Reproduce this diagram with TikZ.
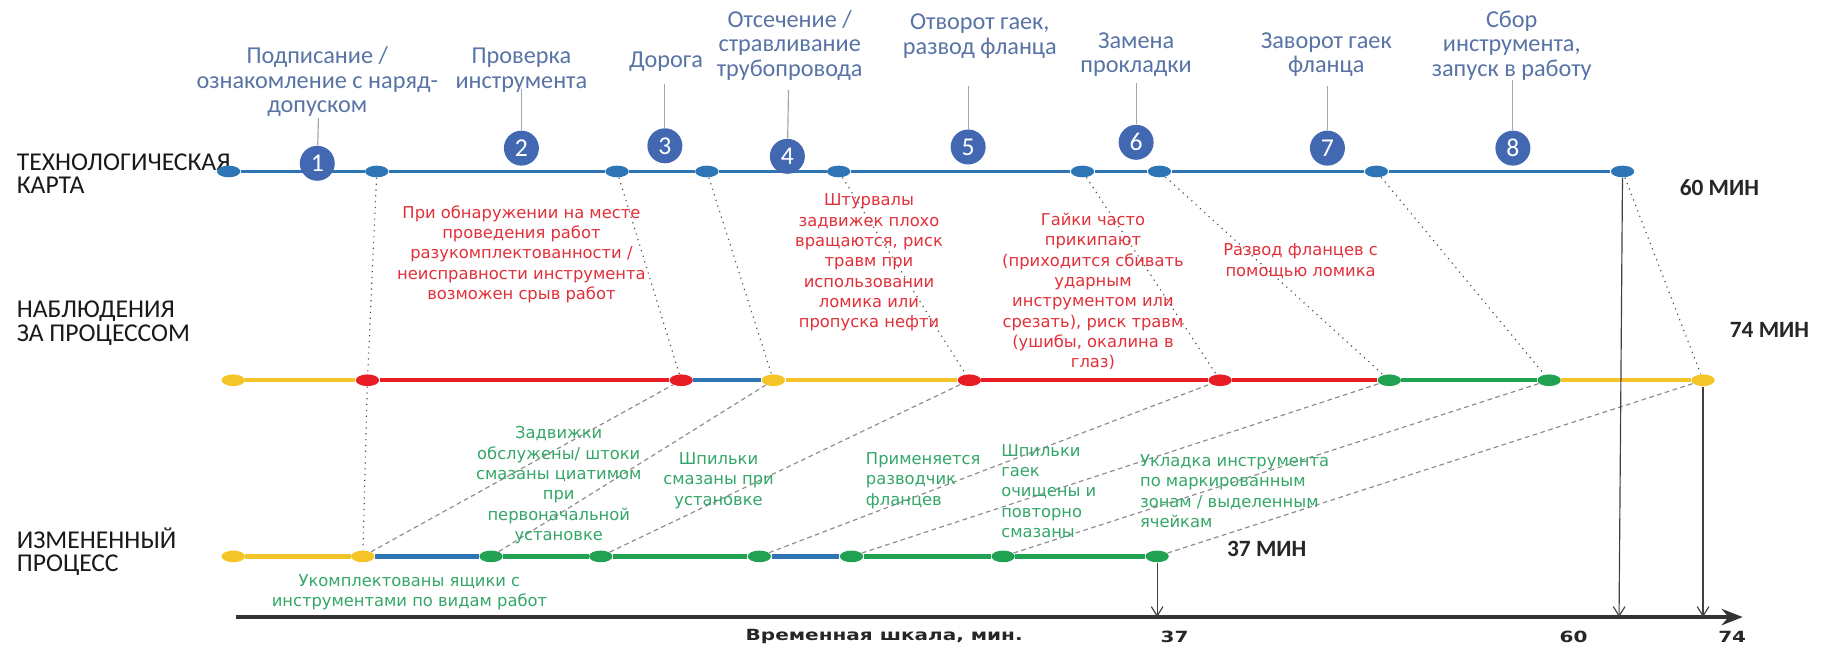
\documentclass[tikz,border=0pt]{standalone}
\usepackage{fontspec}
\setmainfont{Carlito}
\newfontfamily\notefont{DejaVu Sans}
\newfontfamily\axisfont{DejaVu Sans}[FakeStretch=1.3]
\usetikzlibrary{shapes.geometric,arrows.meta,positioning}
\definecolor{lineblue}{RGB}{46,117,182}
\definecolor{numblue}{RGB}{66,104,178}
\definecolor{labelblue}{RGB}{88,115,165}
\definecolor{procred}{RGB}{232,28,36}
\definecolor{notered}{RGB}{226,48,58}
\definecolor{procyellow}{RGB}{245,196,40}
\definecolor{procgreen}{RGB}{32,162,82}
\definecolor{notegreen}{RGB}{52,166,104}
\definecolor{leadgray}{RGB}{165,165,165}

\begin{document}
\begin{tikzpicture}[x=0.5pt,y=-0.5pt,
  stepnum/.style={ellipse, fill=numblue, text=white, minimum width=15pt, minimum height=15pt, inner sep=0pt, font=\fontsize{11}{11}\selectfont},
  steplabel/.style={align=center, inner sep=0pt, text=labelblue, font=\fontsize{10.4}{10.5}\selectfont},
  rowlabel/.style={anchor=west, align=left, inner sep=0pt, text=black!90, font=\fontsize{11}{10}\selectfont},
  minlabel/.style={inner sep=0pt, text=black!85, font=\bfseries\fontsize{10}{10}\selectfont},
  axislabel/.style={inner sep=0pt, text=black!85, font=\axisfont\bfseries\fontsize{6.6}{7}\selectfont},
  rednote/.style={align=center, inner sep=0pt, text=notered, font=\notefont\fontsize{7}{8.7}\selectfont},
  greennote/.style={align=center, inner sep=0pt, text=notegreen, font=\notefont\fontsize{7}{8.7}\selectfont},
  bluedot/.style={ellipse, fill=lineblue, minimum width=10pt, minimum height=5pt, inner sep=0pt},
  reddot/.style={bluedot, fill=procred},
  yellowdot/.style={bluedot, fill=procyellow},
  greendot/.style={bluedot, fill=procgreen},
  topseg/.style={lineblue, line width=1.5pt},
  blueseg/.style={lineblue, line width=1.9pt},
  redseg/.style={procred, line width=1.9pt},
  yellowseg/.style={procyellow, line width=1.9pt},
  greenseg/.style={procgreen, line width=1.9pt},
  leader/.style={leadgray, line width=0.5pt},
  dotlink/.style={black!70, dotted, line width=0.5pt},
  dashlink/.style={black!45, dash pattern=on 2pt off 1.5pt, line width=0.5pt},
  droparrow/.style={black!75, line width=0.5pt, -{Straight Barb[length=4pt,width=5pt]}}]
\useasboundingbox (0,0) rectangle (1568,555);

% row names
\node[rowlabel] (row1) at (14,149) {ТЕХНОЛОГИЧЕСКАЯ\\КАРТА};
\node[rowlabel] (row2) at (14,277) {НАБЛЮДЕНИЯ\\ЗА ПРОЦЕССОМ};
\node[rowlabel] (row3) at (14,473) {ИЗМЕНЕННЫЙ\\ПРОЦЕСС};

% steps of the map
\node[steplabel] (lab1) at (272,70) {Подписание /\\ознакомление с наряд-\\допуском};
\node[steplabel] (lab2) at (447,60) {Проверка\\инструмента};
\node[steplabel] (lab3) at (571,53) {Дорога};
\node[steplabel] (lab4) at (677,39) {Отсечение /\\стравливание\\трубопровода};
\node[steplabel] (lab5) at (840,31) {Отворот гаек,\\развод фланца};
\node[steplabel] (lab6) at (974,47) {Замена\\прокладки};
\node[steplabel] (lab7) at (1137,47) {Заворот гаек\\фланца};
\node[steplabel] (lab8) at (1296,39) {Сбор\\инструмента,\\запуск в работу};

\coordinate (lead1) at (273,101);
\coordinate (lead2) at (447,76);
\coordinate (lead3) at (570,72);
\coordinate (lead4) at (676,77);
\coordinate (lead5) at (830,74);
\coordinate (lead6) at (974,71);
\coordinate (lead7) at (1138,74);
\coordinate (lead8) at (1297,69);

% top line
\node[bluedot] (t1) at (196,147) {};
\node[bluedot] (t2) at (323,147) {};
\node[bluedot] (t3) at (529,147) {};
\node[bluedot] (t4) at (606,147) {};
\node[bluedot] (t5) at (719,147) {};
\node[bluedot] (t6) at (928,147) {};
\node[bluedot] (t7) at (994,147) {};
\node[bluedot] (t8) at (1180,147) {};
\node[bluedot] (t9) at (1391,147) {};
\draw[topseg] (t1) -- (t2) -- (t3) -- (t4) -- (t5) -- (t6) -- (t7) -- (t8) -- (t9);

\node[stepnum] (num1) at (272,140) {1};
\node[stepnum] (num2) at (447,127) {2};
\node[stepnum] (num3) at (570,125) {3};
\node[stepnum] (num4) at (675,134) {4};
\node[stepnum] (num5) at (830,126) {5};
\node[stepnum] (num6) at (974,122) {6};
\node[stepnum] (num7) at (1138,127) {7};
\node[stepnum] (num8) at (1297,127) {8};
\draw[leader] (lead1) -- (num1);
\draw[leader] (lead2) -- (num2);
\draw[leader] (lead3) -- (num3);
\draw[leader] (lead4) -- (num4);
\draw[leader] (lead5) -- (num5);
\draw[leader] (lead6) -- (num6);
\draw[leader] (lead7) -- (num7);
\draw[leader] (lead8) -- (num8);

% observed line
\node[yellowdot] (m1) at (200,326) {};
\node[reddot] (m2) at (315,326) {};
\node[reddot] (m3) at (584,326) {};
\node[yellowdot] (m4) at (663,326) {};
\node[reddot] (m5) at (831,326) {};
\node[reddot] (m6) at (1046,326) {};
\node[greendot] (m7) at (1191,326) {};
\node[greendot] (m8) at (1328,326) {};
\node[yellowdot] (m9) at (1460,326) {};
\draw[yellowseg] (m1) -- (m2);
\draw[redseg] (m2) -- (m3);
\draw[blueseg] (m3) -- (m4);
\draw[yellowseg] (m4) -- (m5);
\draw[redseg] (m5) -- (m6) -- (m7);
\draw[greenseg] (m7) -- (m8);
\draw[yellowseg] (m8) -- (m9);

% changed line
\node[yellowdot] (b1) at (200,477) {};
\node[yellowdot] (b2) at (311,477) {};
\node[greendot] (b3) at (421,477) {};
\node[greendot] (b4) at (515,477) {};
\node[greendot] (b5) at (651,477) {};
\node[greendot] (b6) at (730,477) {};
\node[greendot] (b7) at (860,477) {};
\node[greendot] (b8) at (992,477) {};
\draw[yellowseg] (b1) -- (b2);
\draw[blueseg] (b2) -- (b3);
\draw[greenseg] (b3) -- (b4) -- (b5);
\draw[blueseg] (b5) -- (b6);
\draw[greenseg] (b6) -- (b7) -- (b8);

% links between the lines
\draw[dotlink] (t2) -- (m2) -- (b2);
\draw[dotlink] (t3) -- (m3);
\draw[dotlink] (t4) -- (m4);
\draw[dotlink] (t5) -- (m5);
\draw[dotlink] (t6) -- (m6);
\draw[dotlink] (t7) -- (m7);
\draw[dotlink] (t8) -- (m8);
\draw[dotlink] (t9) -- (m9);
\draw[dashlink] (b2) -- (m3);
\draw[dashlink] (b3) -- (m4);
\draw[dashlink] (b4) -- (m5);
\draw[dashlink] (b5) -- (m6);
\draw[dashlink] (b6) -- (m7);
\draw[dashlink] (b7) -- (m8);
\draw[dashlink] (b8) -- (m9);

% notes
\node[rednote] (noteA) at (447,218) {При обнаружении на месте\\проведения работ\\разукомплектованности /\\неисправности инструмента\\возможен срыв работ};
\node[rednote] (noteB) at (745,225) {Штурвалы\\задвижек плохо\\вращаются, риск\\травм при\\использовании\\ломика или\\пропуска нефти};
\node[rednote] (noteC) at (937,250) {Гайки часто\\прикипают\\(приходится сбивать\\ударным\\инструментом или\\срезать), риск травм\\(ушибы, окалина в\\глаз)};
\node[rednote] (noteD) at (1115,224) {Развод фланцев с\\помощью ломика};
\node[greennote] (noteE) at (479,416) {Задвижки\\обслужены/ штоки\\смазаны циатимом\\при\\первоначальной\\установке};
\node[greennote] (noteF) at (616,412) {Шпильки\\смазаны при\\установке};
\node[greennote, anchor=west, align=left] (noteG) at (742,412) {Применяется\\разводчик\\фланцев};
\node[greennote, anchor=west, align=left] (noteH) at (858,421) {Шпильки\\гаек\\очищены и\\повторно\\смазаны};
\node[greennote, anchor=west, align=left] (noteI) at (977,421) {Укладка инструмента\\по маркированным\\зонам / выделенным\\ячейкам};
\node[greennote] (noteJ) at (351,508) {Укомплектованы ящики с\\инструментами по видам работ};

\node[minlabel] (min60) at (1474,161) {60 МИН};
\node[minlabel] (min74) at (1517,283) {74 МИН};
\node[minlabel] (min37) at (1086,471) {37 МИН};

% time scale
\coordinate (ax0) at (202,529);
\coordinate (axend) at (1494,529);
\coordinate (ax37) at (992,529);
\coordinate (ax60) at (1388,529);
\coordinate (ax74) at (1460,529);
\draw[black!80, line width=1.4pt, -{Stealth[length=9pt,width=7pt]}] (ax0) -- (axend);
\draw[droparrow] (b8) -- (ax37);
\draw[droparrow] (t9) -- (ax60);
\draw[droparrow] (m9) -- (ax74);
\node[axislabel] (scale) at (758,546) {Временная шкала, мин.};
\node[axislabel] (val37) at (1007,546) {37};
\node[axislabel] (val60) at (1349,546) {60};
\node[axislabel] (val74) at (1485,546) {74};
\end{tikzpicture}
\end{document}
